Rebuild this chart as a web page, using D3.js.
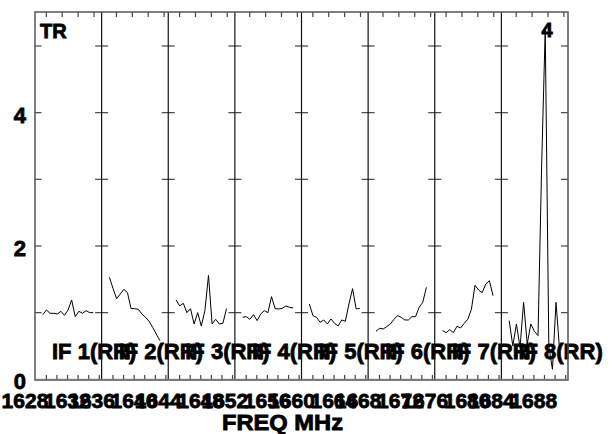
<!DOCTYPE html>
<html>
<head>
<meta charset="utf-8">
<script src="https://cdn.jsdelivr.net/npm/d3@7"></script>
<style>
  body { margin: 0; background: #fff; }
</style>
</head>
<body>
<svg id="chart" width="612" height="434"></svg>
<script>
// first labelled MHz tick of each IF panel
var ifFirstTick = [1628, 1636, 1644, 1652, 1660, 1668, 1676, 1684];
var tickLabels = [[1628, 1632], [1636, 1640], [1644, 1648], [1652, 1656],
                  [1660, 1664], [1668, 1672], [1676, 1680], [1684, 1688]];
var ifNames = ["IF 1(RR)", "IF 2(RR)", "IF 3(RR)", "IF 4(RR)",
               "IF 5(RR)", "IF 6(RR)", "IF 7(RR)", "IF 8(RR)"];
var yTicks = [0, 1, 2, 3, 4, 5];
var yLabels = [0, 2, 4];

// channel spectra, one per IF
var if1 = [0.97, 1.04, 0.99, 0.99, 0.98, 1.02, 0.96, 1.04, 1.19, 0.94, 1.02, 0.99, 1.03, 1.0, 1.0];
var if2 = [1.53, 1.36, 1.21, 1.28, 1.35, 1.30, 1.06, 1.06, 1.05, 0.98, 0.93, 0.87, 0.78, 0.68, 0.58];
var if3 = [1.19, 1.10, 1.14, 1.0, 1.06, 0.83, 1.0, 0.80, 1.03, 1.56, 0.83, 0.90, 0.83, 0.84, 1.06];
var if4 = [0.93, 0.94, 0.90, 0.97, 0.88, 0.98, 1.03, 1.0, 1.24, 1.06, 1.055, 1.065, 1.10, 1.08, 1.07];
var if5 = [1.13, 0.955, 0.93, 0.855, 0.89, 0.83, 0.905, 0.84, 0.80, 0.89, 0.87, 1.13, 1.36, 1.055, 1.065];
var if6 = [0.72, 0.765, 0.755, 0.79, 0.83, 0.90, 0.955, 0.93, 0.89, 0.89, 0.94, 0.94, 1.08, 1.155, 1.38];
var if7 = [0.73, 0.70, 0.745, 0.70, 0.795, 0.77, 0.84, 0.90, 1.05, 1.41, 1.34, 1.30, 1.43, 1.48, 1.255];
var if8 = [0.88, 0.50, 0.83, 0.48, 1.155, 0.53, 0.83, 0.72, 0.655, 3.2, 5.25, 0.5, 0.15, 1.155, 0.43];
var spectra = [if1, if2, if3, if4, if5, if6, if7, if8];

var chanStep = 0.34;    // MHz between channels
var chanOffset = -0.33; // first channel relative to first tick
var topStep = 1.5;

var font = "'Liberation Sans', Arial, Helvetica, sans-serif";

var svg = d3.select("#chart"),
    margin = {top: 12, left: 35, bottom: 54, right: 44},
    width = +svg.attr("width") - margin.left - margin.right,
    height = +svg.attr("height") - margin.top - margin.bottom;
var nIF = ifFirstTick.length;
var panelW = width / nIF;

var y = d3.scaleLinear().domain([0, 5.51])
          .range([margin.top + height - 0.7, margin.top]);

var g = svg.append("g");

// heavy plotter-style lettering
function label(sel, size) {
  return sel.attr("font-family", font).attr("font-weight", 700)
            .attr("font-size", size).attr("fill", "#000")
            .attr("stroke", "#000").attr("stroke-width", 0.8);
}

ifFirstTick.forEach((k0, i) => {
  var left = margin.left + i * panelW;
  var x = d3.scaleLinear().domain([k0 - 1.07, k0 + 5.22]).range([left, left + panelW]);
  var bottom = margin.top + height;

  // bottom MHz ticks
  g.selectAll(null).data(d3.range(k0, k0 + 5.5, 1)).enter().append("line")
    .attr("x1", d => x(d)).attr("x2", d => x(d))
    .attr("y1", bottom).attr("y2", bottom - 5)
    .attr("stroke", "#444").attr("stroke-width", 1.2);

  // top ticks
  var shift = i % 2 ? 0.33 : 0;
  g.selectAll(null).data(d3.range(k0 + shift, k0 + 5.2, topStep)).enter().append("line")
    .attr("x1", d => x(d)).attr("x2", d => x(d))
    .attr("y1", margin.top).attr("y2", margin.top + 5)
    .attr("stroke", "#444").attr("stroke-width", 1.2);

  // frequency labels
  label(g.selectAll(null).data(tickLabels[i]).enter().append("text"), 21)
    .attr("x", d => x(d) + 2).attr("y", 408)
    .attr("text-anchor", "end")
    .text(d => d);

  // IF name
  label(g.append("text"), 22).attr("x", left + 17).attr("y", 359)
    .text(ifNames[i]);

  // y ticks on the panel edge
  g.selectAll(null).data(yTicks.slice(1)).enter().append("line")
    .attr("x1", i == 0 ? left : left - 6.5).attr("x2", left + 6.5)
    .attr("y1", d => y(d)).attr("y2", d => y(d))
    .attr("stroke", "#444").attr("stroke-width", 1.2);

  // spectrum
  var pts = spectra[i].map((v, c) => [k0 + chanOffset + c * chanStep, v]);
  g.append("path").datum(pts)
    .attr("fill", "none").attr("stroke", "#000").attr("stroke-width", 1)
    .attr("d", d3.line().x(d => x(d[0])).y(d => y(d[1])));

  // divider
  if (i > 0) {
    g.append("line").attr("x1", left).attr("x2", left)
      .attr("y1", margin.top).attr("y2", bottom)
      .attr("stroke", "#111").attr("stroke-width", 1.2);
  }
});

// right edge ticks
var right = margin.left + width;
g.selectAll(null).data(yTicks.slice(1)).enter().append("line")
  .attr("x1", right - 7).attr("x2", right)
  .attr("y1", d => y(d)).attr("y2", d => y(d))
  .attr("stroke", "#444").attr("stroke-width", 1.2);

// frame
svg.append("rect")
  .attr("x", margin.left).attr("y", margin.top)
  .attr("width", width).attr("height", height)
  .attr("fill", "none").attr("stroke", "#555").attr("stroke-width", 1.5);
svg.append("line")
  .attr("x1", margin.left).attr("x2", right)
  .attr("y1", y(0)).attr("y2", y(0))
  .attr("stroke", "#777").attr("stroke-width", 1);

// y labels
label(svg.selectAll(".ylab").data(yLabels).enter().append("text"), 22)
  .attr("class", "ylab")
  .attr("x", 26).attr("y", d => y(d) + 10)
  .attr("text-anchor", "end")
  .text(d => d);

label(svg.append("text"), 20).attr("x", 40).attr("y", 38).text("TR");
label(svg.append("text"), 20).attr("x", 547).attr("y", 37)
  .attr("text-anchor", "middle").text("4");

label(svg.append("text"), 22).attr("x", 222).attr("y", 430)
  .attr("textLength", 121).attr("lengthAdjust", "spacingAndGlyphs")
  .text("FREQ MHz");
</script>
</body>
</html>
